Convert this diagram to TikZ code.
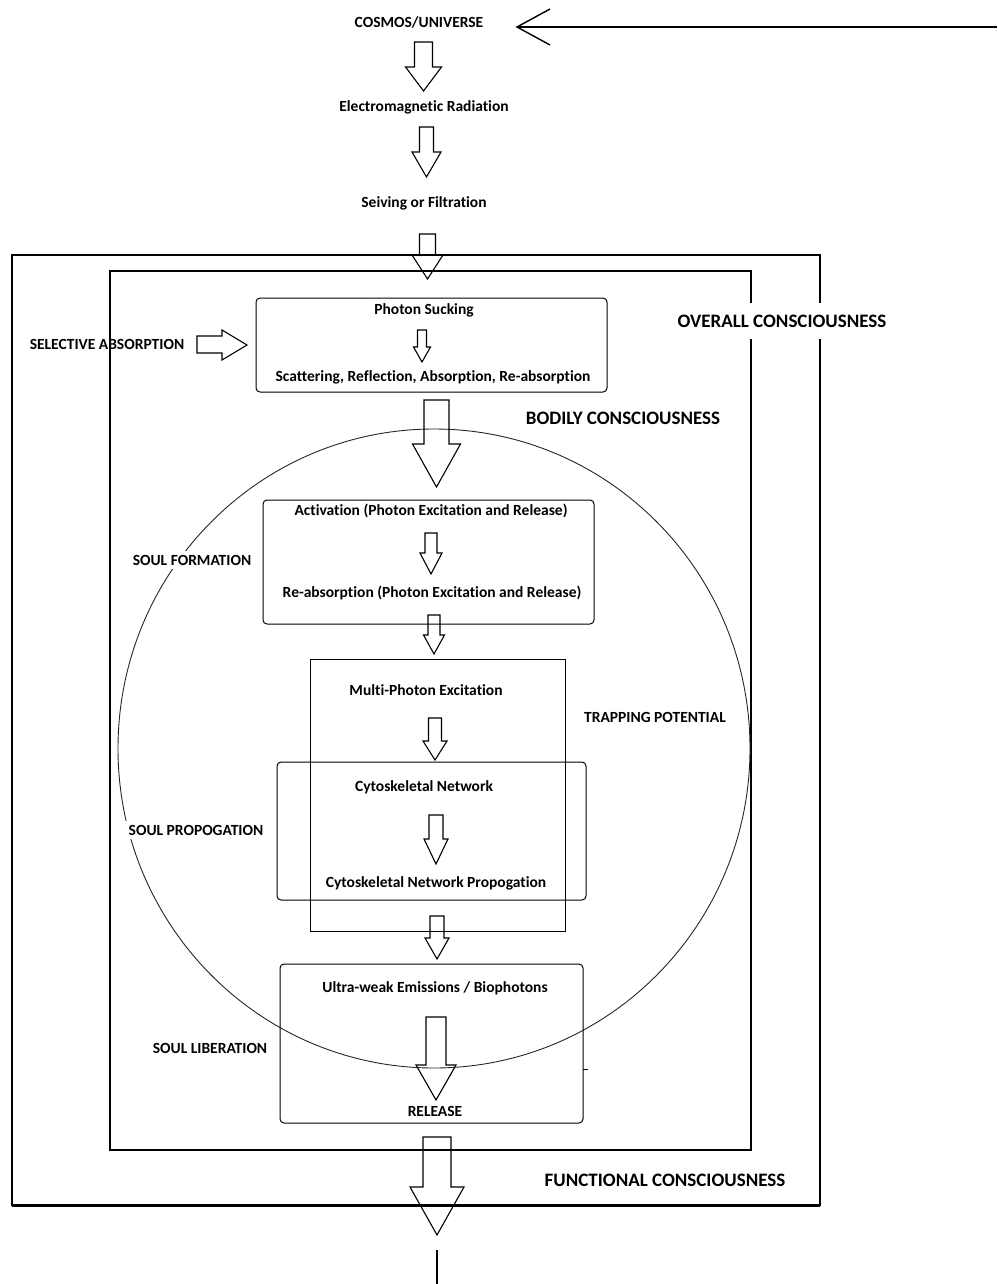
\documentclass[tikz,border=0pt]{standalone}
\usepackage{fontspec}
\setmainfont{Carlito}[Ligatures=NoCommon]
\tikzset{
  lbl/.style={font=\bfseries\fontsize{15.5}{18}\selectfont, inner sep=1pt},
  biglbl/.style={font=\bfseries\fontsize{19}{22}\selectfont, inner sep=2pt},
  boxr/.style={draw, line width=1pt, rounded corners=4pt},
  boxs/.style={draw, line width=1pt},
  barrowstyle/.style={draw, line width=1.1pt, line join=miter},
}
\newcommand\barrow[6]{%
  \draw[barrowstyle] ({#1-#5},#2) -- ({#1+#5},#2) -- ({#1+#5},#3) -- ({#1+#6},#3) -- (#1,#4) -- ({#1-#6},#3) -- ({#1-#5},#3) -- cycle;}
\begin{document}
\begin{tikzpicture}[x=1pt,y=-1pt]
\useasboundingbox (0,0) rectangle (997,1284);
% frames
\draw[line width=1.8pt] (12,255) rectangle (820,1205);
\draw[line width=3pt] (12,1205) -- (820,1205);
\draw[line width=1.4pt] (110,271) rectangle (751,1150);
% circle
\draw[line width=0.9pt, black!85] (434,748.5) ellipse [x radius=316, y radius=319.5];
% top chain
\node[lbl] (cosmos) at (419,22) {COSMOS/UNIVERSE};
\coordinate (fbstart) at (997,27);
\coordinate (fbend) at (517,27);
\draw[line width=1.4pt] (fbstart) -- (fbend);
\draw[line width=1.4pt] (550,9) -- (fbend) -- (550,45);
\node[lbl] (em) at (424,107) {Electromagnetic Radiation};
\node[lbl] (seive) at (424,203) {Seiving or Filtration};
\barrow{423.5}{42}{67}{91}{9}{18}
\barrow{426.5}{127}{152}{177}{7}{14.5}
\barrow{427.5}{234}{255}{279}{8}{15.5}
% labels with white fill
\node[biglbl, fill=white, inner ysep=12pt] (overall) at (782,321) {OVERALL CONSCIOUSNESS};
\node[biglbl] (bodily) at (623,418) {BODILY CONSCIOUSNESS};
\node[biglbl] (functional) at (665,1180) {FUNCTIONAL CONSCIOUSNESS};
\node[lbl, fill=white, inner sep=4pt] (soulform) at (192,560) {SOUL FORMATION};
\node[lbl, fill=white, inner sep=4pt] (soulprop) at (196,830) {SOUL PROPOGATION};
\node[lbl] (soullib) at (210,1048) {SOUL LIBERATION};
\node[lbl] (trap) at (655,717) {TRAPPING POTENTIAL};
% photon sucking box
\draw[boxr] (256,298) rectangle (607,392);
\node[lbl] (photon) at (424,310) {Photon Sucking};
\node[lbl] (scatter) at (433,377) {Scattering, Reflection, Absorption, Re-absorption};
\barrow{422}{330}{347}{362}{4.5}{8.5}
\node[lbl] (selective) at (107,344) {SELECTIVE ABSORPTION};
\draw[barrowstyle] (197,336) -- (222,336) -- (222,330) -- (247,345) -- (222,360) -- (222,353) -- (197,353) -- cycle;
\barrow{436.5}{400}{444}{487}{12.5}{24}
% activation box
\draw[boxr] (263,500) rectangle (594,624);
\node[lbl] (activation) at (431,511) {Activation (Photon Excitation and Release)};
\node[lbl] (reabs) at (432,593) {Re-absorption (Photon Excitation and Release)};
\barrow{431}{533}{553}{574}{6}{11}
\barrow{434}{615}{635}{654}{6}{10.5}
% multi-photon / cytoskeletal
\draw[boxs] (310,659) rectangle (565,931);
\node[lbl] (multi) at (426,690) {Multi-Photon Excitation};
\barrow{435}{718}{741}{760}{6.5}{12}
\draw[boxr] (277,762) rectangle (586,900);
\node[lbl] (cyto) at (424,787) {Cytoskeletal Network};
\node[lbl] (cytoprop) at (436,883) {Cytoskeletal Network Propogation};
\barrow{436}{815}{839}{864}{7}{12}
\barrow{437}{916}{938}{959}{7}{12}
% ultra-weak box
\draw[boxr] (280,964) rectangle (583,1123);
\node[lbl] (ultra) at (435,988) {Ultra-weak Emissions / Biophotons};
\node[lbl] (release) at (435,1111) {RELEASE};
\barrow{436}{1017}{1065}{1100}{10}{20}
\draw[line width=1pt] (583,1069) -- (588,1069);
% bottom
\barrow{437}{1137}{1187}{1235}{14}{27}
\coordinate (tailtop) at (437,1250);
\coordinate (tailbot) at (437,1284);
\draw[line width=1.2pt] (tailtop) -- (tailbot);
\end{tikzpicture}
\end{document}
